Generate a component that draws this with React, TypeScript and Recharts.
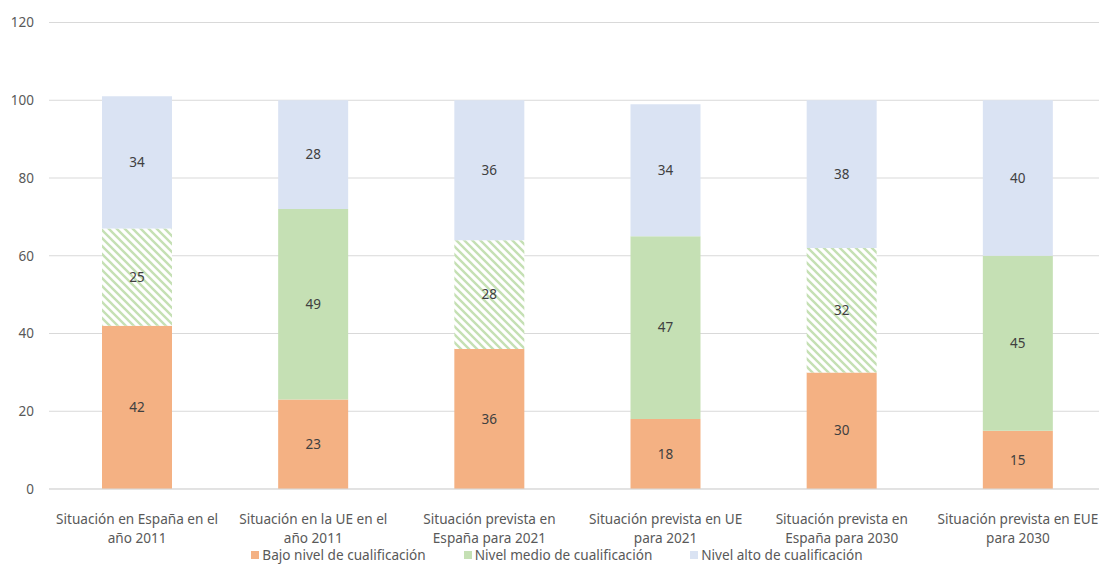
import React from 'react';
import { BarChart, Bar, XAxis, YAxis, CartesianGrid, Legend, LabelList, Cell } from 'recharts';

const categories = [
    'Situación en España en el\naño 2011',
    'Situación en la UE en el\naño 2011',
    'Situación prevista en\nEspaña para 2021',
    'Situación prevista en UE\npara 2021',
    'Situación prevista en\nEspaña para 2030',
    'Situación prevista en EUE\npara 2030',
];
const bajo = [42, 23, 36, 18, 30, 15];
const medio = [25, 49, 28, 47, 32, 45];
const alto = [34, 28, 36, 34, 38, 40];
// categories whose middle segment is drawn hatched (Spain)
const hatched = [true, false, true, false, true, false];
const yTicks = [0, 20, 40, 60, 80, 100, 120];

const series = [
    { key: 'bajo', name: 'Bajo nivel de cualificación', color: '#F4B183' },
    { key: 'medio', name: 'Nivel medio de cualificación', color: '#C5E0B4' },
    { key: 'alto', name: 'Nivel alto de cualificación', color: '#DAE3F3' },
];

const data = categories.map((c, i) => ({
    name: c,
    bajo: bajo[i],
    medio: medio[i],
    alto: alto[i],
}));

const FONT = '"Noto Sans", sans-serif';

const CategoryTick = (props: any) => {
    const { x, y, payload } = props;
    const lines = String(payload.value).split('\n');
    return (
        <g transform={`translate(${x},${y})`}>
            {lines.map((line, i) => (
                <text key={i} x={0} y={21 + i * 19.5} textAnchor="middle" dominantBaseline="central"
                      fill="#595959" fontSize={13.6} fontFamily={FONT}>
                    {line}
                </text>
            ))}
        </g>
    );
};

const renderLegend = () => (
    <div style={{ height: 26, boxSizing: 'border-box', paddingTop: 8, display: 'flex', justifyContent: 'center',
        alignItems: 'flex-start', fontFamily: FONT, fontSize: 13.6, color: '#595959', paddingLeft: 8 }}>
        {series.map((s) => (
            <span key={s.key} style={{ display: 'flex', alignItems: 'center', margin: '0 19px', height: 16, lineHeight: '16px' }}>
                <span style={{ width: 8, height: 8, background: s.color, display: 'inline-block', marginRight: 3 }} />
                {s.name}
            </span>
        ))}
    </div>
);

const App: React.FC = () => {
    return (
        <div style={{ position: 'absolute', left: 0, top: 0, width: 1099, height: 565, overflow: 'hidden', background: '#fff' }}>
            <BarChart width={1110} height={565} data={data} barSize={70}
                      margin={{ top: 22.5, right: 4, bottom: 0, left: 0 }}>
                <defs>
                    <pattern id="hatch" width="8" height="8" patternUnits="userSpaceOnUse">
                        <rect width="8" height="8" fill="#ffffff" />
                        <path d="M-2,-2 L10,10 M-2,6 L2,10 M6,-2 L10,2" stroke="#C5E0B4" strokeWidth={2.4} />
                    </pattern>
                </defs>
                <CartesianGrid vertical={false} stroke="#D9D9D9" />
                <XAxis dataKey="name" height={50} interval={0} tick={<CategoryTick />}
                       tickLine={false} axisLine={{ stroke: '#D9D9D9' }} />
                <YAxis width={49} domain={[0, 120]} ticks={yTicks} axisLine={false} tickLine={false}
                       tickSize={0} tickMargin={15}
                       tick={{ fill: '#595959', fontSize: 13.5, fontFamily: FONT }} />
                <Legend verticalAlign="bottom" content={renderLegend} />
                <Bar dataKey="bajo" name={series[0].name} stackId="a" fill={series[0].color} isAnimationActive={false}>
                    <LabelList dataKey="bajo" position="center" fill="#404040" fontSize={13.5} fontFamily={FONT} />
                </Bar>
                <Bar dataKey="medio" name={series[1].name} stackId="a" fill={series[1].color} isAnimationActive={false}>
                    {data.map((d, i) => (
                        <Cell key={i} fill={hatched[i] ? 'url(#hatch)' : series[1].color} />
                    ))}
                    <LabelList dataKey="medio" position="center" fill="#404040" fontSize={13.5} fontFamily={FONT} />
                </Bar>
                <Bar dataKey="alto" name={series[2].name} stackId="a" fill={series[2].color} isAnimationActive={false}>
                    <LabelList dataKey="alto" position="center" fill="#404040" fontSize={13.5} fontFamily={FONT} />
                </Bar>
            </BarChart>
        </div>
    );
};

export default App;
